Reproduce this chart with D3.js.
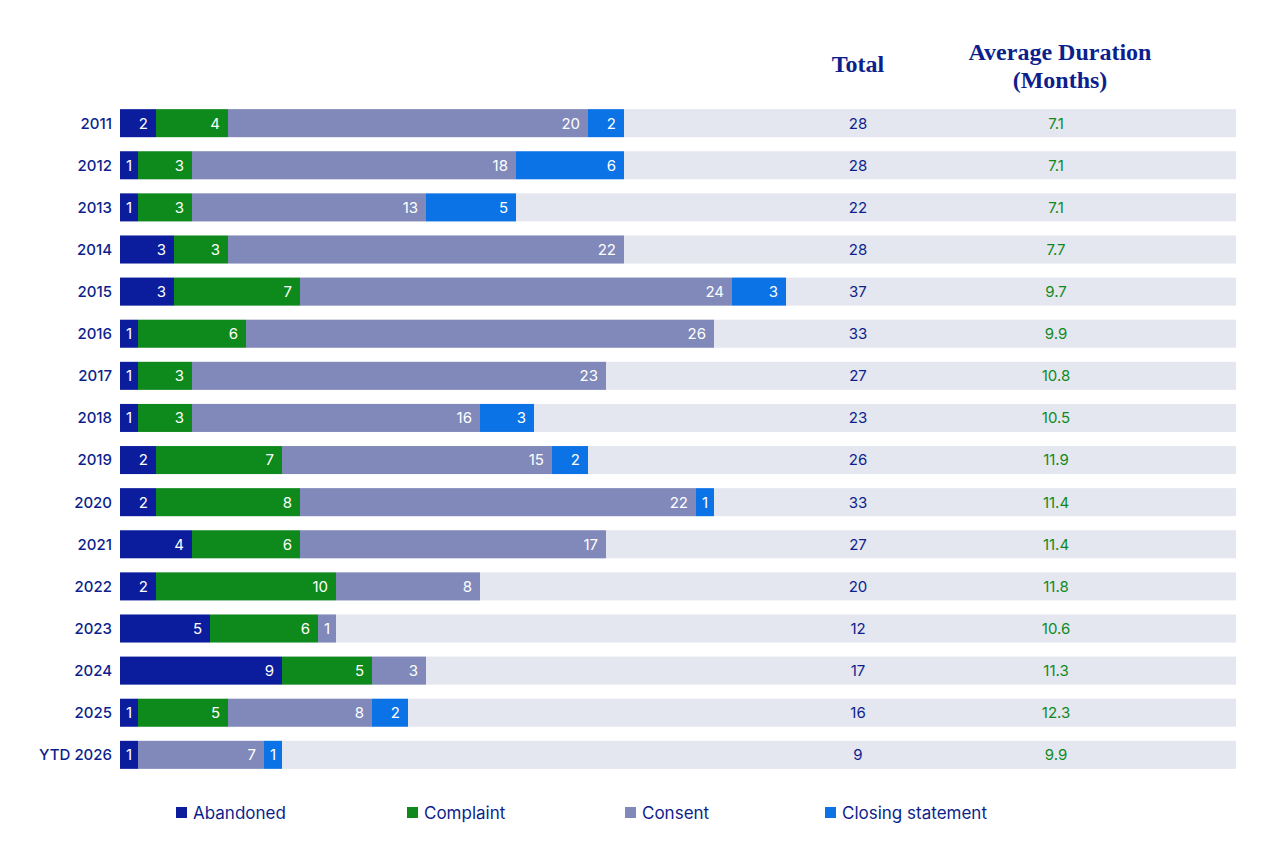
<!DOCTYPE html>
<html><head><meta charset="utf-8">
<script src="https://cdn.jsdelivr.net/npm/d3@7/dist/d3.min.js"></script>
<style>
  body { margin: 0; background: #fff; }
  svg text { font-family: Inter, "Noto Sans", sans-serif; }
</style></head>
<body>
<svg id="chart" width="1280" height="866"></svg>
<script>
'use strict';

/* ── Data ── */
const years = ['2011','2012','2013','2014','2015','2016','2017','2018','2019','2020','2021','2022','2023','2024','2025','YTD 2026'];
const abandoned = [2,1,1,3,3,1,1,1,2,2,4,2,5,9,1,1];
const complaint = [4,3,3,3,7,6,3,3,7,8,6,10,6,5,5,0];
const consent   = [20,18,13,22,24,26,23,16,15,22,17,8,1,3,8,7];
const closing   = [2,6,5,0,3,0,0,3,2,1,0,0,0,0,2,1];
const totals    = [28,28,22,28,37,33,27,23,26,33,27,20,12,17,16,9];
const avgDuration = ['7.1','7.1','7.1','7.7','9.7','9.9','10.8','10.5','11.9','11.4','11.4','11.8','10.6','11.3','12.3','9.9'];
const seriesNames = ['Abandoned','Complaint','Consent','Closing statement'];
const seriesColors = ['#0b1d9c','#0e8a1c','#8089b9','#0b73e6'];

const navy = '#0d1f8c';
const svg = d3.select('#chart');

const x = d3.scaleLinear().domain([0, 28]).range([120, 624]);
const y = d3.scaleBand().domain(years).range([102, 776]).paddingInner(0.335).paddingOuter(0.17);

/* ── Row backgrounds ── */
svg.append('g').selectAll('rect').data(years).join('rect')
  .attr('x', 120).attr('width', 1236 - 120)
  .attr('y', d => y(d)).attr('height', y.bandwidth())
  .attr('fill', '#e4e6f0');

/* ── Stacked bars ── */
const rows = years.map((yr, i) => ({ year: yr, vals: [abandoned[i], complaint[i], consent[i], closing[i]] }));
const segs = [];
rows.forEach(r => {
  let acc = 0;
  r.vals.forEach((v, k) => {
    if (v > 0) segs.push({ year: r.year, k, v, x0: acc, x1: acc + v });
    acc += v;
  });
});

svg.append('g').selectAll('rect').data(segs).join('rect')
  .attr('x', d => x(d.x0)).attr('width', d => x(d.x1) - x(d.x0))
  .attr('y', d => y(d.year)).attr('height', y.bandwidth())
  .attr('fill', d => seriesColors[d.k]);

svg.append('g').selectAll('text').data(segs).join('text')
  .attr('x', d => (x(d.x1) - x(d.x0)) <= 20 ? (x(d.x0) + x(d.x1)) / 2 : x(d.x1) - 8)
  .attr('text-anchor', d => (x(d.x1) - x(d.x0)) <= 20 ? 'middle' : 'end')
  .attr('y', d => y(d.year) + y.bandwidth() / 2)
  .attr('dy', '0.36em')
  .attr('fill', '#fff').style('font-size', '15px')
  .text(d => d.v);

/* ── Year labels ── */
svg.append('g').selectAll('text').data(years).join('text')
  .attr('x', 112).attr('text-anchor', 'end')
  .attr('y', d => y(d) + y.bandwidth() / 2).attr('dy', '0.36em')
  .attr('fill', navy).style('font-size', '15px').style('font-weight', 500)
  .text(d => d);

/* ── Totals & durations ── */
svg.append('g').selectAll('text').data(totals).join('text')
  .attr('x', 858).attr('text-anchor', 'middle')
  .attr('y', (d, i) => y(years[i]) + y.bandwidth() / 2).attr('dy', '0.36em')
  .attr('fill', navy).style('font-size', '15px')
  .text(d => d);

svg.append('g').selectAll('text').data(avgDuration).join('text')
  .attr('x', 1056).attr('text-anchor', 'middle')
  .attr('y', (d, i) => y(years[i]) + y.bandwidth() / 2).attr('dy', '0.36em')
  .attr('fill', '#0e8a1c').style('font-size', '15px')
  .text(d => d);

/* ── Headers ── */
const hdr = svg.append('g').attr('fill', navy)
  .style('font-family', '"Liberation Serif", "DejaVu Serif", serif')
  .style('font-weight', 'bold').style('font-size', '24px')
  .attr('text-anchor', 'middle');
hdr.append('text').attr('x', 858).attr('y', 72).style('font-family', '"Liberation Serif", serif').text('Total');
hdr.append('text').attr('x', 1060).attr('y', 60).style('font-family', '"Liberation Serif", serif').text('Average Duration');
hdr.append('text').attr('x', 1060).attr('y', 88).style('font-family', '"Liberation Serif", serif').text('(Months)');

/* ── Legend ── */
const legendX = [176, 407, 625, 825];
const lg = svg.append('g').selectAll('g').data(seriesNames).join('g')
  .attr('transform', (d, i) => `translate(${legendX[i]},813)`);
lg.append('rect').attr('x', 0).attr('y', -6).attr('width', 11).attr('height', 11)
  .attr('fill', (d, i) => seriesColors[i]);
lg.append('text').attr('x', 17).attr('dy', '0.36em')
  .attr('fill', navy).style('font-size', '17px')
  .text(d => d);
</script>
</body></html>
